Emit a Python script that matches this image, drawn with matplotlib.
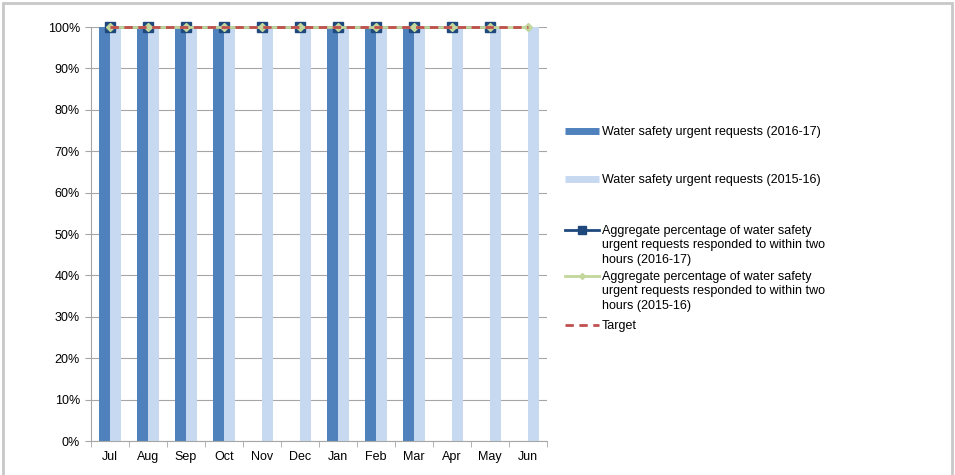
import numpy as np
import matplotlib
matplotlib.use("Agg")
from matplotlib import pyplot as plt
from matplotlib.lines import Line2D
from matplotlib.patches import Rectangle

plt.rcParams['font.family'] = ['Liberation Sans', 'DejaVu Sans']

months = ["Jul", "Aug", "Sep", "Oct", "Nov", "Dec", "Jan", "Feb", "Mar", "Apr", "May", "Jun"]
bars_1617 = [100, 100, 100, 100, np.nan, np.nan, 100, 100, 100, np.nan, np.nan, np.nan]
bars_1516 = [100] * 12
agg_1617 = [100] * 11 + [np.nan]
agg_1516 = [100] * 12
target = [100] * 12

labels = ["Water safety urgent requests (2016-17)",
          "Water safety urgent requests (2015-16)",
          "Aggregate percentage of water safety\nurgent requests responded to within two\nhours (2016-17)",
          "Aggregate percentage of water safety\nurgent requests responded to within two\nhours (2015-16)",
          "Target"]

c_dark = '#4F81BD'
c_light = '#C6D9F1'
c_navy = '#1F497D'
c_green = '#C3D69B'
c_red = '#C0504D'
c_grid = '#A6A6A6'

fig = plt.figure(figsize=(9.55, 4.75), dpi=100)
ax = fig.add_axes([91/955, 34/475, 456/955, 414/475])

x = np.arange(len(months))
w = 0.3
ax.bar(x - w/2, bars_1617, w, color=c_dark, zorder=2)
ax.bar(x + w/2, bars_1516, w, color=c_light, zorder=2)
ax.plot(x, agg_1617, color=c_navy, lw=2, marker='s', ms=7, zorder=3, clip_on=False)
ax.plot(x, agg_1516, color=c_green, lw=2, marker='D', ms=4.5, zorder=4, clip_on=False)
ax.plot(x, target, color=c_red, lw=2, ls=(0, (3, 2)), zorder=5, clip_on=False)

ax.set_xlim(-0.5, len(months) - 0.5)
ax.set_ylim(0, 100)
ax.set_yticks(np.arange(0, 101, 10))
ax.set_yticklabels([f"{v}%" for v in range(0, 101, 10)], fontsize=9)
ax.set_xticks(x)
ax.set_xticklabels(months, fontsize=9)
ax.set_xticks(np.arange(-0.5, len(months), 1), minor=True)
ax.tick_params(axis='x', which='major', length=0, pad=7)
ax.tick_params(axis='x', which='minor', length=4, color=c_grid)
ax.tick_params(axis='y', length=4, color=c_grid, pad=4)
ax.grid(axis='y', color=c_grid, lw=0.8, zorder=0)
ax.set_axisbelow(True)
for s in ['top', 'right']:
    ax.spines[s].set_visible(False)
for s in ['left', 'bottom']:
    ax.spines[s].set_color(c_grid)

# legend drawn by hand to match the layout
H = 475.0
W = 955.0
def fy(py):
    return 1 - py / H

entries = [
    (131, dict(color=c_dark, lw=5, solid_capstyle='butt'), labels[0]),
    (179, dict(color=c_light, lw=5, solid_capstyle='butt'), labels[1]),
    (230, dict(color=c_navy, lw=2, marker='s', ms=6, markevery=[1]), labels[2]),
    (276, dict(color=c_green, lw=2, marker='D', ms=3, markevery=[1]), labels[3]),
    (325, dict(color=c_red, lw=2, ls=(0, (3, 2))), labels[4]),
]
for py, style, text in entries:
    fig.add_artist(Line2D([565/W, 582/W, 599/W], [fy(py)] * 3, transform=fig.transFigure, **style))
    fig.text(602/W, fy(py - 5), text, fontsize=9, va='top', ha='left', linespacing=1.25)

fig.add_artist(Rectangle((3/W, -0.05), 949/W, 1.05 - 3/H, transform=fig.transFigure,
                         fill=False, edgecolor='#C8C8C8', lw=2))

fig.savefig("out.png", dpi=100)
